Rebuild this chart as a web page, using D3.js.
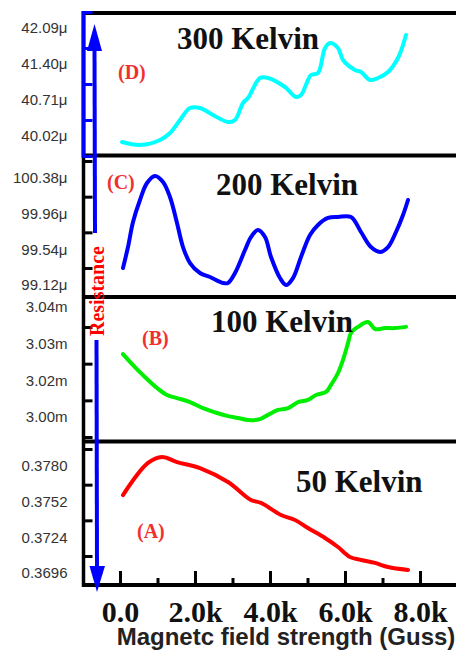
<!DOCTYPE html>
<html>
<head>
<meta charset="utf-8">
<script src="https://cdn.jsdelivr.net/npm/d3@7"></script>
<style>
  body { margin: 0; background: #fff; }
  svg { display: block; }
</style>
</head>
<body>
<svg id="chart"></svg>
<script>
// field strength (G) vs resistance, one set per temperature
const fieldD = [53, 533, 1067, 1333, 1600, 1867, 2133, 2480, 2880, 3067, 3280, 3413, 3733, 3947, 4400, 4693, 4827, 5013, 5093, 5280, 5467, 5600, 5813, 5947, 6267, 6427, 6667, 6880, 7147, 7413, 7627];
const resD = [39.905, 39.848, 39.943, 40.078, 40.327, 40.557, 40.557, 40.422, 40.288, 40.327, 40.653, 40.748, 41.132, 41.132, 40.959, 40.767, 40.806, 41.093, 41.189, 41.228, 41.707, 41.803, 41.707, 41.477, 41.285, 41.247, 41.093, 41.132, 41.247, 41.515, 41.956];

const fieldC = [80, 213, 347, 533, 720, 933, 1147, 1333, 1520, 1680, 1867, 2133, 2400, 2747, 2880, 3067, 3333, 3493, 3680, 3867, 4027, 4267, 4427, 4613, 4827, 5067, 5280, 5547, 5813, 6160, 6427, 6693, 6933, 7147, 7360, 7547, 7680];
const resC = [99.320, 99.567, 99.862, 100.121, 100.321, 100.404, 100.333, 100.156, 99.850, 99.567, 99.379, 99.261, 99.214, 99.144, 99.144, 99.261, 99.532, 99.685, 99.768, 99.685, 99.450, 99.202, 99.120, 99.202, 99.450, 99.709, 99.827, 99.909, 99.921, 99.921, 99.744, 99.567, 99.509, 99.567, 99.744, 99.944, 100.121];

const fieldB = [80, 347, 613, 987, 1253, 1520, 1867, 2213, 2587, 2880, 3147, 3413, 3733, 3947, 4213, 4480, 4747, 5013, 5227, 5493, 5627, 5813, 5947, 6080, 6160, 6347, 6613, 6800, 7067, 7333, 7627];
const resB = [3.0246, 3.0210, 3.0177, 3.0135, 3.0112, 3.0102, 3.0089, 3.0069, 3.0053, 3.0043, 3.0037, 3.0030, 3.0033, 3.0047, 3.0063, 3.0069, 3.0089, 3.0096, 3.0112, 3.0122, 3.0145, 3.0184, 3.0227, 3.0282, 3.0315, 3.0335, 3.0351, 3.0328, 3.0331, 3.0331, 3.0335];

const fieldA = [80, 747, 1120, 1520, 2133, 2880, 3493, 3760, 4293, 4667, 5013, 5467, 5813, 6133, 6427, 6800, 7147, 7680];
const resA = [0.37572, 0.37824, 0.37871, 0.37831, 0.37784, 0.37674, 0.37533, 0.37510, 0.37415, 0.37376, 0.37313, 0.37235, 0.37164, 0.37086, 0.37062, 0.37039, 0.37007, 0.36984];

// y tick values and their labels
const ticksD = [42.09, 41.40, 40.71, 40.02, 39.33];
const labelsD = ["42.09\u03bc", "41.40\u03bc", "40.71\u03bc", "40.02\u03bc", ""];
const ticksC = [100.38, 99.96, 99.54, 99.12];
const labelsC = ["100.38\u03bc", "99.96\u03bc", "99.54\u03bc", "99.12\u03bc"];
const ticksB = [3.040, 3.028, 3.016, 3.004];
const labelsB = ["3.04m", "3.03m", "3.02m", "3.00m"];
const ticksA = [0.3780, 0.3752, 0.3724, 0.3696];
const labelsA = ["0.3780", "0.3752", "0.3724", "0.3696"];

const xTicks = [0, 2000, 4000, 6000, 8000];
const xTickLabels = ["0.0", "2.0k", "4.0k", "6.0k", "8.0k"];
const xMinorTicks = [1000, 3000, 5000, 7000];

const titles = ["300 Kelvin", "200 Kelvin", "100 Kelvin", "50 Kelvin"];
const letters = ["(D)", "(C)", "(B)", "(A)"];

const width = 456, height = 650;
const left = 83.5, right = 462;
const serif = "'Liberation Serif', 'Times New Roman', serif";
const sans = "'Liberation Sans', Arial, sans-serif";

const panels = [
  { field: fieldD, res: resD, ticks: ticksD, labels: labelsD, nLab: 4, yTop: 28, yBot: 136, shift: -16,
    color: "#00ffff", axisColor: "#0000ff", title: [177, 49], letter: [118, 72] },
  { field: fieldC, res: resC, ticks: ticksC, labels: labelsC, nLab: 4, yTop: 178, yBot: 285, shift: -17,
    color: "#0000ff", axisColor: "#000", title: [216, 195], letter: [107, 182] },
  { field: fieldB, res: resB, ticks: ticksB, labels: labelsB, nLab: 4, yTop: 307, yBot: 417, shift: 20,
    color: "#00ee00", axisColor: "#000", title: [211, 332], letter: [142, 338] },
  { field: fieldA, res: resA, ticks: ticksA, labels: labelsA, nLab: 4, yTop: 466, yBot: 573, shift: -17,
    color: "#ff0000", axisColor: "#000", title: [296, 492], letter: [137, 531] }
];
const bottom = 585;

const svg = d3.select("#chart").attr("width", width).attr("height", height);

const x = d3.scaleLinear().domain([0, 8000]).range([120, 420]);

// frame
svg.append("line").attr("x1", left).attr("x2", left).attr("y1", 11).attr("y2", bottom + 2)
  .attr("stroke", "#000").attr("stroke-width", 3.5);
[13, 155.5, 297, 441.5, bottom].forEach(yy => {
  svg.append("line").attr("x1", left - 1.5).attr("x2", right).attr("y1", yy).attr("y2", yy)
    .attr("stroke", "#000").attr("stroke-width", 4);
});

panels.forEach((p, i) => {
  const y = d3.scaleLinear()
    .domain([p.ticks[p.nLab - 1], p.ticks[0]])
    .range([p.yBot, p.yTop]);

  const g = svg.append("g").attr("transform", `translate(${left},0)`)
    .call(d3.axisLeft(y).tickValues(p.ticks).tickFormat((d, j) => p.labels[j])
      .tickSizeInner(-9).tickSizeOuter(0).tickPadding(16));
  g.select(".domain").remove();
  g.selectAll(".tick line")
    .attr("y1", p.shift).attr("y2", p.shift)
    .attr("stroke", p.axisColor).attr("stroke-width", 3);
  g.selectAll(".tick text")
    .style("font-family", sans).style("font-size", "15px").attr("fill", "#333");

  if (p.axisColor !== "#000") {
    svg.append("line").attr("x1", left).attr("x2", left).attr("y1", 11).attr("y2", 157.5)
      .attr("stroke", p.axisColor).attr("stroke-width", 4);
  }

  const line = d3.line().x((d, j) => x(p.field[j])).y(d => y(d)).curve(d3.curveCatmullRom);
  svg.append("path").datum(p.res).attr("d", line)
    .attr("fill", "none").attr("stroke", p.color).attr("stroke-width", 4)
    .attr("stroke-linejoin", "round").attr("stroke-linecap", "round");

  svg.append("text").attr("x", p.title[0]).attr("y", p.title[1])
    .style("font-family", serif).style("font-size", "31px").style("font-weight", "bold")
    .attr("fill", "#111").text(titles[i]);

  svg.append("text").attr("x", p.letter[0]).attr("y", p.letter[1])
    .attr("dominant-baseline", "central")
    .style("font-family", serif).style("font-size", "20px").style("font-weight", "bold")
    .attr("fill", "#f03030").text(letters[i]);
});

// x axis
const xAxis = svg.append("g").attr("transform", `translate(0,${bottom})`)
  .call(d3.axisBottom(x).tickValues(xTicks).tickFormat((d, i) => xTickLabels[i])
    .tickSizeInner(-14).tickSizeOuter(0).tickPadding(16));
xAxis.select(".domain").remove();
xAxis.selectAll(".tick line").attr("stroke-width", 3);
xAxis.selectAll(".tick text")
  .style("font-family", serif).style("font-size", "30px").style("font-weight", "bold").attr("fill", "#111");

const xMinor = svg.append("g").attr("transform", `translate(0,${bottom})`)
  .call(d3.axisBottom(x).tickValues(xMinorTicks).tickFormat("").tickSizeInner(-7).tickSizeOuter(0));
xMinor.select(".domain").remove();
xMinor.selectAll(".tick line").attr("stroke-width", 3);

svg.append("text").attr("x", 286).attr("y", 645).attr("text-anchor", "middle")
  .style("font-family", sans).style("font-size", "24px").style("font-weight", "bold")
  .attr("fill", "#222").text("Magnetc field strength (Guss)");

// resistance arrow
const blue = "#0000ff";
svg.append("line").attr("x1", 94.5).attr("x2", 95).attr("y1", 48).attr("y2", 233)
  .attr("stroke", blue).attr("stroke-width", 4);
svg.append("line").attr("x1", 96.5).attr("x2", 97).attr("y1", 340).attr("y2", 568)
  .attr("stroke", blue).attr("stroke-width", 4);
svg.append("path").attr("d", "M94.5,24 L87,51 L102,51 Z").attr("fill", blue);
svg.append("path").attr("d", "M97,592 L89.5,566 L105,566 Z").attr("fill", blue);

svg.append("text").attr("transform", "translate(97,291) rotate(-90)")
  .attr("text-anchor", "middle").attr("dominant-baseline", "central")
  .style("font-family", serif).style("font-size", "20px").style("font-weight", "bold")
  .attr("fill", "#ff0000").text("Resistance");
</script>
</body>
</html>
